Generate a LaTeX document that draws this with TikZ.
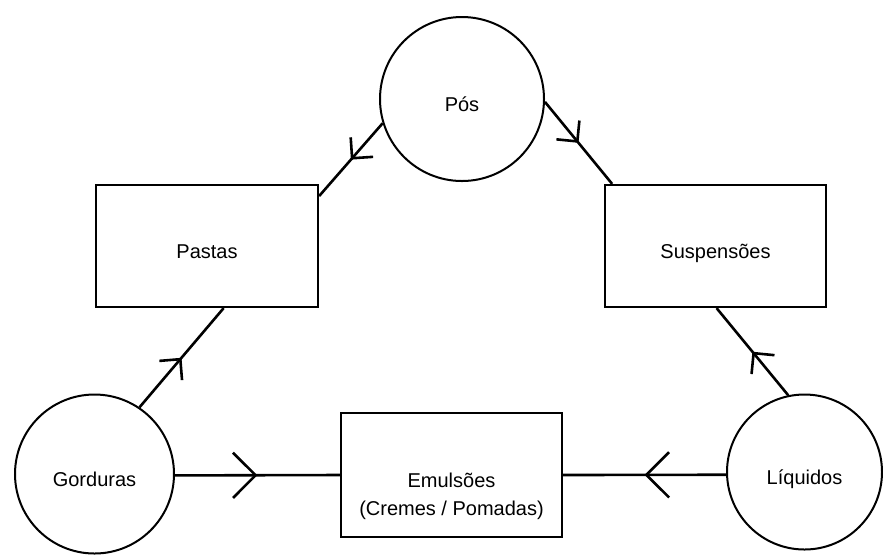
\documentclass[tikz,border=0pt]{standalone}
\usepackage{fontspec}
\setmainfont{Liberation Sans}
\usetikzlibrary{arrows.meta,decorations.markings}

\begin{document}
\begin{tikzpicture}[x=0.5pt, y=-0.5pt, font=\fontsize{10}{14}\selectfont,
    phase/.style={circle, draw, line width=1pt, text height=12pt, text depth=0pt},
    form/.style={rectangle, draw, line width=1.1pt, minimum width=110.5pt, minimum height=61pt, text height=12pt, text depth=0pt},
    arrow/.style={line width=1.3pt, postaction={decorate},
        decoration={markings, mark=at position 0.5 with {\arrow[line width=1.3pt]{Straight Barb[angle=90:#1]}}}},
    arrow/.default=10.5pt]
    \useasboundingbox (0,0) rectangle (883,554);

    \node[phase, minimum size=82pt] (P) at (462,99) {Pós};
    \node[phase, minimum size=79.5pt] (G) at (94.5,474) {Gorduras};
    \node[phase, minimum size=77.5pt] (L) at (804.5,472) {Líquidos};
    \node[form, minimum width=111pt] (Pa) at (207,246) {Pastas};
    \node[form] (S) at (715.5,246) {Suspensões};
    \node[form, minimum height=62pt,
        label={[align=center, yshift=-10.5pt]center:Emulsões\\(Cremes / Pomadas)}] (E) at (451.5,475) {};

    \draw[arrow] (P.197) -- (Pa.24);
    \draw[arrow] (P.-2) -- (S.149);
    \draw[arrow] (G.56) -- (Pa.-75);
    \draw[arrow] (L.102) -- (S.-89);
    \draw[arrow=16pt] (G.-1) -- (E.west);
    \draw[arrow=16pt] (L.182) -- (E.east);
\end{tikzpicture}
\end{document}
